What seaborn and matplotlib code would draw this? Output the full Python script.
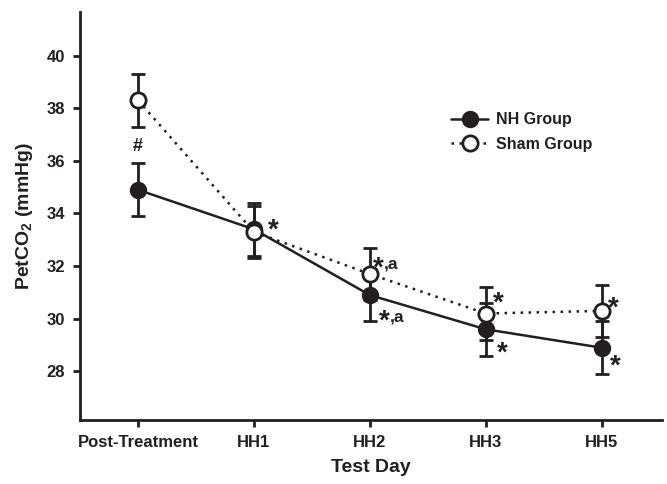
import numpy as np
import pandas as pd
import seaborn as sns
import matplotlib.pyplot as plt

# Values
days = ["Post-Treatment", "HH1", "HH2", "HH3", "HH5"]
nh_mean = [34.9, 33.4, 30.9, 29.6, 28.9]
nh_sem = [1.0, 1.0, 1.0, 1.0, 1.0]
sham_mean = [38.3, 33.3, 31.7, 30.2, 30.3]
sham_sem = [1.0, 1.0, 1.0, 1.0, 1.0]

# significance marks: (x position, y centre, suffix)
star_x = [1.17, 2.07, 2.125, 3.11, 3.14, 4.1, 4.12]
star_y = [33.62, 32.17, 30.17, 30.84, 28.94, 30.65, 28.45]
star_suffix = ["", ",a", ",a", "", "", "", ""]
hash_pos = (0, 36.55)

sns.set_style("ticks")
plt.rcParams["font.family"] = ["Liberation Sans", "DejaVu Sans"]
plt.rcParams["font.weight"] = "bold"
plt.rcParams["mathtext.fontset"] = "custom"
plt.rcParams["mathtext.rm"] = "Liberation Sans:bold"
plt.rcParams["mathtext.bf"] = "Liberation Sans:bold"

df = pd.DataFrame({
    "day": list(range(len(days))) * 2,
    "value": nh_mean + sham_mean,
    "group": ["NH Group"] * len(days) + ["Sham Group"] * len(days),
})

fig = plt.figure(figsize=(6.67, 4.84), dpi=100)
ax = fig.add_axes([0.12, 0.132, 0.8725, 0.843])

x = np.arange(len(days))
col = "#231f20"

# error bars first, then lines with markers
ax.errorbar(x, nh_mean, yerr=nh_sem, fmt="none", ecolor=col, elinewidth=2, capsize=5, capthick=2, zorder=2)
ax.errorbar(x, sham_mean, yerr=sham_sem, fmt="none", ecolor=col, elinewidth=2, capsize=5, capthick=2, zorder=4)

sns.lineplot(data=df[df.group == "NH Group"], x="day", y="value", ax=ax, color=col,
             lw=1.8, marker="o", markersize=11, markerfacecolor=col, markeredgecolor=col,
             markeredgewidth=1.5, label="NH Group", zorder=3)
sns.lineplot(data=df[df.group == "Sham Group"], x="day", y="value", ax=ax, color=col,
             lw=1.8, ls=(0, (1, 2.2)), marker="o", markersize=11, markerfacecolor="white",
             markeredgecolor=col, markeredgewidth=2, label="Sham Group", zorder=5)

ax.text(hash_pos[0], hash_pos[1], "#", ha="center", va="center", fontsize=13, color=col)
fs = 20
for sx, sy, suf in zip(star_x, star_y, star_suffix):
    ax.annotate("*", (sx, sy), xytext=(0, -0.52 * fs), textcoords="offset points",
                ha="center", va="baseline", fontsize=fs, color=col)
    if suf:
        ax.annotate(suf, (sx, sy), xytext=(0.2 * fs, -5.2), textcoords="offset points",
                    ha="left", va="baseline", fontsize=12.5, color=col)

ax.set_xlim(-0.5, 4.52)
ax.set_ylim(26.15, 41.65)
ax.set_xticks(x)
ax.set_xticklabels(days)
ax.set_yticks(range(28, 41, 2))
ax.tick_params(axis="both", labelsize=12, width=2, length=5, color=col, labelcolor=col, pad=6)
for s in ["left", "bottom"]:
    ax.spines[s].set_linewidth(2)
    ax.spines[s].set_color(col)
sns.despine(ax=ax)

ax.set_xlabel("Test Day", fontsize=14, fontweight="bold", color=col, labelpad=6)
ax.set_ylabel(r"PetCO$_\mathbf{2}$ (mmHg)", fontsize=14, fontweight="bold", color=col, labelpad=8)

leg = ax.legend(loc="upper left", bbox_to_anchor=(0.613, 0.79), frameon=False, fontsize=11.5,
                handlelength=2.3, handletextpad=0.5, labelspacing=0.6)
for t in leg.get_texts():
    t.set_color(col)

fig.savefig("out.png", dpi=100)
